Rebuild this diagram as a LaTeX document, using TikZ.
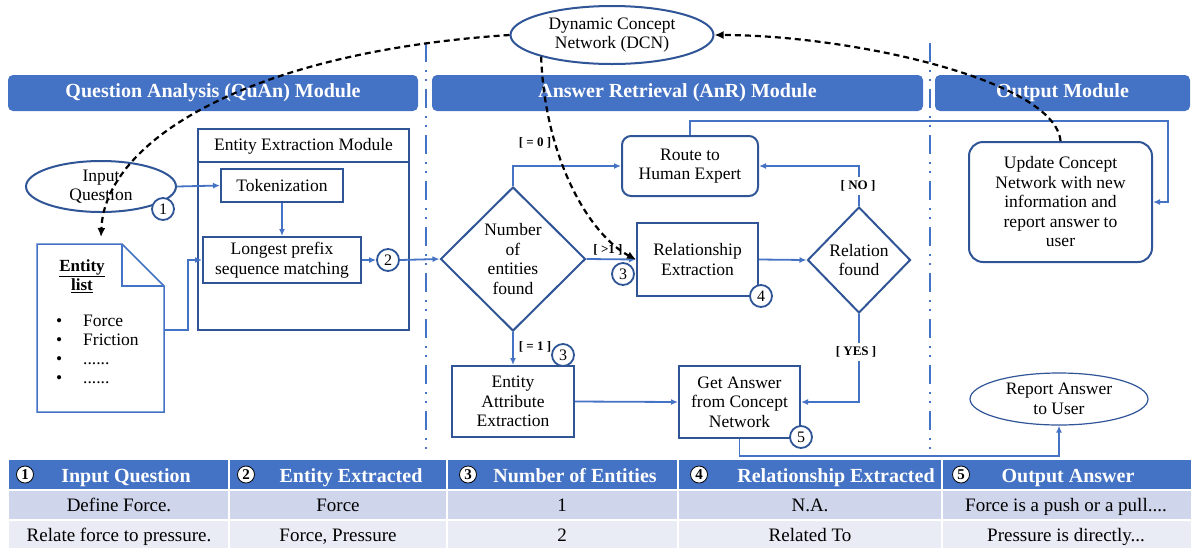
\documentclass[tikz,border=0pt]{standalone}
\usepackage{fontspec}
\setmainfont{Liberation Serif}
\usetikzlibrary{shapes.geometric,arrows.meta,calc}
\definecolor{hdr}{HTML}{4472C4}
\definecolor{bxc}{HTML}{2F5597}
\definecolor{lnc}{HTML}{4472C4}
\definecolor{rowa}{HTML}{CFD5EA}
\definecolor{rowb}{HTML}{E9EBF5}
\begin{document}
\begin{tikzpicture}[x=1pt,y=-1pt,
  every node/.style={font=\fontsize{17.5}{19.5}\selectfont},
  box/.style={draw=bxc, line width=2pt, align=center, inner sep=1pt},
  rbox/.style={box, rounded corners=9pt},
  ell/.style={ellipse, draw=bxc, line width=2pt, align=center, inner sep=0pt},
  dia/.style={diamond, draw=bxc, line width=2pt, align=center, inner sep=0pt},
  num/.style={circle, draw=bxc, line width=1.8pt, fill=white, minimum size=22pt, inner sep=0pt, font=\fontsize{16}{16}\selectfont},
  conn/.style={draw=lnc, line width=1.8pt},
  arr/.style={conn, -{Latex[length=7pt,width=6pt]}},
  dcnarr/.style={draw=black, line width=2.2pt, dash pattern=on 6pt off 4pt, -{Latex[length=9pt,width=8pt]}},
  lbl/.style={font=\bfseries\fontsize{13}{13}\selectfont, inner sep=1.5pt},
  hbar/.style={fill=hdr, rounded corners=5pt, text=white, font=\bfseries\fontsize{20}{20}\selectfont, minimum height=36pt, inner sep=0pt},
  divline/.style={draw=lnc, line width=1.6pt, dash pattern=on 19pt off 8pt on 2pt off 7pt on 2pt off 8pt},
  th/.style={text=white, anchor=base, font=\bfseries\fontsize{20}{20}\selectfont},
  td/.style={anchor=base, font=\fontsize{19}{19}\selectfont},
  tnum/.style={circle, fill=white, draw=black, line width=0.8pt, minimum size=17pt, inner sep=0pt, font=\bfseries\fontsize{15}{15}\selectfont},
  bul/.style={anchor=base west, inner sep=0pt}
]
\useasboundingbox (0,0) rectangle (1191,550);

% module header bars
\node[hbar, minimum width=410pt] (h1) at (213,93) {Question Analysis (QuAn) Module};
\node[hbar, minimum width=491pt] (h2) at (677.5,93) {Answer Retrieval (AnR) Module};
\node[hbar, minimum width=255pt] (h3) at (1062.5,93) {Output Module};

% dividers
\draw[divline] (426,43) -- (426,454);
\draw[divline] (930,43) -- (930,454);

% table
\fill[hdr] (9,460) rectangle (1191,489);
\fill[rowa] (9,490.5) rectangle (1191,519);
\fill[rowb] (9,520.5) rectangle (1191,548);
\foreach \xx in {229,447,678,942}{
  \draw[white, line width=1.2pt] (\xx,460) -- (\xx,548);
}
\node[tnum] (tn1) at (25,474.5) {1};
\node[tnum] (tn2) at (246,474.5) {2};
\node[tnum] (tn3) at (468,474.5) {3};
\node[tnum] (tn4) at (699,474.5) {4};
\node[tnum] (tn5) at (961,474.5) {5};
\node[th] (th1) at (126,482) {Input Question};
\node[th] (th2) at (351,482) {Entity Extracted};
\node[th] (th3) at (575,482) {Number of Entities};
\node[th] (th4) at (836,482) {Relationship Extracted};
\node[th] (th5) at (1068,482) {Output Answer};
\node[td] (r11) at (119,511.5) {Define Force.};
\node[td] (r12) at (338,511.5) {Force};
\node[td] (r13) at (562,511.5) {1};
\node[td] (r14) at (810,511.5) {N.A.};
\node[td] (r15) at (1066,511.5) {Force is a push or a pull....};
\node[td] (r21) at (119,541) {Relate force to pressure.};
\node[td] (r22) at (338,541) {Force, Pressure};
\node[td] (r23) at (562,541) {2};
\node[td] (r24) at (810,541) {Related To};
\node[td] (r25) at (1066,541) {Pressure is directly...};

% DCN
\node[ell, minimum width=203pt, minimum height=58pt] (dcn) at (612,35) {Dynamic Concept\\Network (DCN)};

% Question analysis module
\node[ell, minimum width=150pt, minimum height=51pt] (iq) at (101,186.5) {Input\\Question};
\node[num] (c1) at (163,209) {1};
\node[box, minimum width=211pt, minimum height=201pt] (eem) at (303.5,229.5) {};
\node (eemt) at (303.5,146) {Entity Extraction Module};
\coordinate (sepy) at (0,162);
\draw[draw=bxc, line width=2pt] (eem.west |- sepy) -- (eem.east |- sepy);
\node[box, minimum width=122pt, minimum height=33pt] (tok) at (282,185.5) {Tokenization};
\node[box, minimum width=158pt, minimum height=46pt] (lps) at (282,260) {Longest prefix\\sequence matching};
\node[num] (c2) at (388,260) {2};

% entity list document
\draw[draw=lnc, line width=1.5pt] (37,244) -- (122,244) -- (164,286) -- (164,412) -- (37,412) -- cycle;
\draw[draw=lnc, line width=1.5pt] (122,244) -- (122,286) -- (164,286);
\coordinate (docR) at (164,330);
\coordinate (docT) at (101,237);
\node[align=center, font=\bfseries\fontsize{17}{19}\selectfont] (elt) at (82,276) {\underline{Entity}\\\underline{list}};
\node[bul] (eb1) at (56,326) {\textbullet};
\node[bul] (ei1) at (83,326) {Force};
\node[bul] (eb2) at (56,345) {\textbullet};
\node[bul] (ei2) at (83,345) {Friction};
\node[bul] (eb3) at (56,364) {\textbullet};
\node[bul] (ei3) at (83,364) {......};
\node[bul] (eb4) at (56,383) {\textbullet};
\node[bul] (ei4) at (83,383) {......};

% Answer retrieval module
\node[dia, minimum width=145pt, minimum height=144pt] (nef) at (513,259) {Number\\of\\entities\\found};
\node[rbox, minimum width=136pt, minimum height=60pt] (route) at (690,166) {Route to\\Human Expert};
\node[box, minimum width=121pt, minimum height=73pt] (rel) at (697.5,259.5) {Relationship\\Extraction};
\node[dia, minimum width=103pt, minimum height=106pt] (rf) at (859,260) {Relation\\found};
\node[box, minimum width=122pt, minimum height=71pt] (eae) at (513,401.5) {Entity\\Attribute\\Extraction};
\node[box, minimum width=121pt, minimum height=72pt] (ga) at (739.5,402) {Get Answer\\from Concept\\Network};

% Output module
\node[rbox, rounded corners=14pt, minimum width=183pt, minimum height=120pt] (upd) at (1060.5,202) {Update Concept\\Network with new\\information and\\report answer to\\user};
\node[ell, line width=1.2pt, minimum width=178pt, minimum height=52pt] (rep) at (1059,399) {Report Answer\\to User};

% connectors
\draw[arr] (iq.east) -- (tok.west);
\draw[arr] (tok.south) -- (lps.north);
\draw[arr] (docR) -- ++(24,0) |- (lps.west);
\draw[arr] (lps.east) -- (c2.west);
\draw[arr] (c2.east) -- (nef.west);
\draw[arr] (nef.north) |- (route.west);
\draw[arr] (nef.east) -- (rel.west);
\draw[arr] (nef.south) -- (eae.north);
\draw[arr] (rel.east) -- (rf.west);
\draw[arr] (rf.north) |- (route.east);
\draw[arr] (rf.south) |- (ga.east);
\draw[arr] (eae.east) -- (ga.west);
\draw[arr] (route.north) |- (1168,121) |- (upd.east);
\draw[arr] (ga.south) -- ++(0,17) -| (rep.south);

% numbered circles
\node[num] (c3a) at (623,274) {3};
\node[num] (c4) at (761,296) {4};
\node[num] (c3b) at (563,355) {3};
\node[num] (c5) at (801,437) {5};

% labels
\node[lbl] (l0) at (535,143) {[ = 0 ]};
\node[lbl] (lg) at (608,250) {[ >1 ]};
\node[lbl] (l1) at (535,347) {[ = 1 ]};
\node[lbl, fill=white, inner sep=4pt] (lno) at (858,186) {[ NO ]};
\node[lbl, fill=white, inner sep=4pt] (lyes) at (856,352) {[ YES ]};

% dashed DCN links
\draw[dcnarr] (dcn.west) .. controls (250,52) and (105,140) .. (docT);
\draw[dcnarr] (dcn.197) .. controls (545,160) and (590,235) .. (rel.west);
\draw[dcnarr] (upd.north) .. controls (1055,80) and (850,35) .. (dcn.east);
\end{tikzpicture}
\end{document}
